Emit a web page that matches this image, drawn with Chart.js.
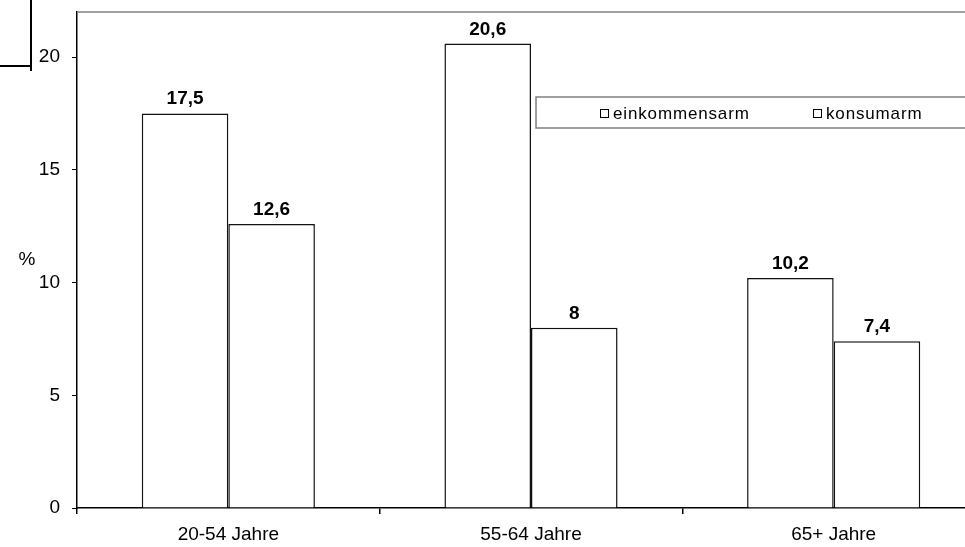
<!DOCTYPE html>
<html>
<head>
<meta charset="utf-8">
<script src="https://cdn.jsdelivr.net/npm/chart.js@4.4.1/dist/chart.umd.min.js"></script>
<style>
  html, body { margin: 0; padding: 0; background: #fff; overflow: hidden; }
  canvas { display: block; }
</style>
</head>
<body>
<canvas id="armut__chart" width="985" height="547"></canvas>
<script>
"use strict";

// Data.
const categories = ["20-54 Jahre", "55-64 Jahre", "65+ Jahre"];
const seriesNames = ["einkommensarm", "konsumarm"];
const einkommensarm = [17.5, 20.6, 10.2];
const konsumarm = [12.6, 8, 7.4];
const yTicks = [0, 5, 10, 15, 20];
const yTitle = "%";

const FONT = "'Liberation Sans', Arial, sans-serif";

// Format numbers with a comma, like 17,5.
const fmt = (v) => String(v).replace(".", ",");

// Bar value labels, legend box and leftover frame lines.
const extras = {
  id: "extras",
  afterDatasetsDraw(chart) {
    const c = chart.ctx;
    const area = chart.chartArea;
    c.save();

    // top border of the plot area
    c.strokeStyle = "#808080";
    c.lineWidth = 1.5;
    c.beginPath();
    c.moveTo(area.left, area.top);
    c.lineTo(chart.width, area.top);
    c.stroke();

    // value labels
    c.fillStyle = "#000";
    c.font = "bold 19px " + FONT;
    c.textAlign = "center";
    c.textBaseline = "alphabetic";
    chart.data.datasets.forEach((ds, i) => {
      chart.getDatasetMeta(i).data.forEach((bar, j) => {
        c.fillText(fmt(ds.data[j]), bar.x, bar.y - 9);
      });
    });

    // legend box
    c.fillStyle = "#fff";
    c.fillRect(536, 97, 460, 31);
    c.strokeStyle = "#808080";
    c.lineWidth = 1.5;
    c.strokeRect(536, 97, 460, 31);
    const items = [
      { x: 600, label: chart.data.datasets[0].label },
      { x: 813, label: chart.data.datasets[1].label },
    ];
    c.font = "17px " + FONT;
    c.textAlign = "left";
    c.textBaseline = "middle";
    c.letterSpacing = "0.85px";
    items.forEach((it) => {
      c.fillStyle = "#fff";
      c.fillRect(it.x, 109, 8, 8);
      c.strokeStyle = "#000";
      c.lineWidth = 1;
      c.strokeRect(it.x + 0.5, 109.5, 8, 8);
      c.fillStyle = "#000";
      c.fillText(it.label, it.x + 13, 114);
    });
    c.letterSpacing = "0px";

    // y title
    c.font = "19px " + FONT;
    c.textAlign = "center";
    c.fillText(yTitle, 27, 260);

    // cut-off frame in the top-left corner
    c.strokeStyle = "#000";
    c.lineWidth = 2;
    c.beginPath();
    c.moveTo(31, 0);
    c.lineTo(31, 71);
    c.moveTo(0, 66);
    c.lineTo(31, 66);
    c.stroke();

    c.restore();
  },
};

const ctx = document.getElementById("armut__chart");

const myChart = new Chart(ctx, {
  type: "bar",
  data: {
    labels: categories,
    datasets: [
      {
        label: seriesNames[0],
        data: einkommensarm,
        backgroundColor: "#fff",
        borderColor: "#111",
        borderWidth: 1.5,
      },
      {
        label: seriesNames[1],
        data: konsumarm,
        backgroundColor: "#fff",
        borderColor: "#111",
        borderWidth: 1.5,
      },
    ],
  },
  options: {
    responsive: false,
    animation: false,
    events: [],
    layout: { padding: { top: 12, left: 0, right: 0, bottom: 0 } },
    datasets: {
      bar: { categoryPercentage: 0.572, barPercentage: 1 },
    },
    plugins: {
      legend: { display: false },
      tooltip: { enabled: false },
    },
    scales: {
      x: {
        grid: {
          offset: true,
          drawOnChartArea: false,
          tickLength: 6,
          color: "#000",
          lineWidth: 1.5,
        },
        border: { color: "#000", width: 1.5 },
        ticks: {
          color: "#000",
          font: { family: FONT, size: 19 },
          padding: 9,
          maxRotation: 0,
        },
        afterFit: (scale) => {
          scale.height = 39;
          scale.paddingLeft = 0;
          scale.paddingRight = 0;
        },
      },
      y: {
        min: 0,
        max: 22,
        grid: {
          drawOnChartArea: false,
          tickLength: 5,
          color: "#000",
          lineWidth: 1,
        },
        border: { color: "#000", width: 1.5 },
        ticks: {
          stepSize: 5,
          color: "#000",
          font: { family: FONT, size: 19 },
          padding: 12,
        },
        afterBuildTicks: (scale) => {
          scale.ticks = yTicks.map((v) => ({ value: v }));
        },
        afterFit: (scale) => {
          scale.width = 77;
          scale.paddingTop = 0;
          scale.paddingBottom = 0;
        },
      },
    },
  },
  plugins: [extras],
});
</script>
</body>
</html>
